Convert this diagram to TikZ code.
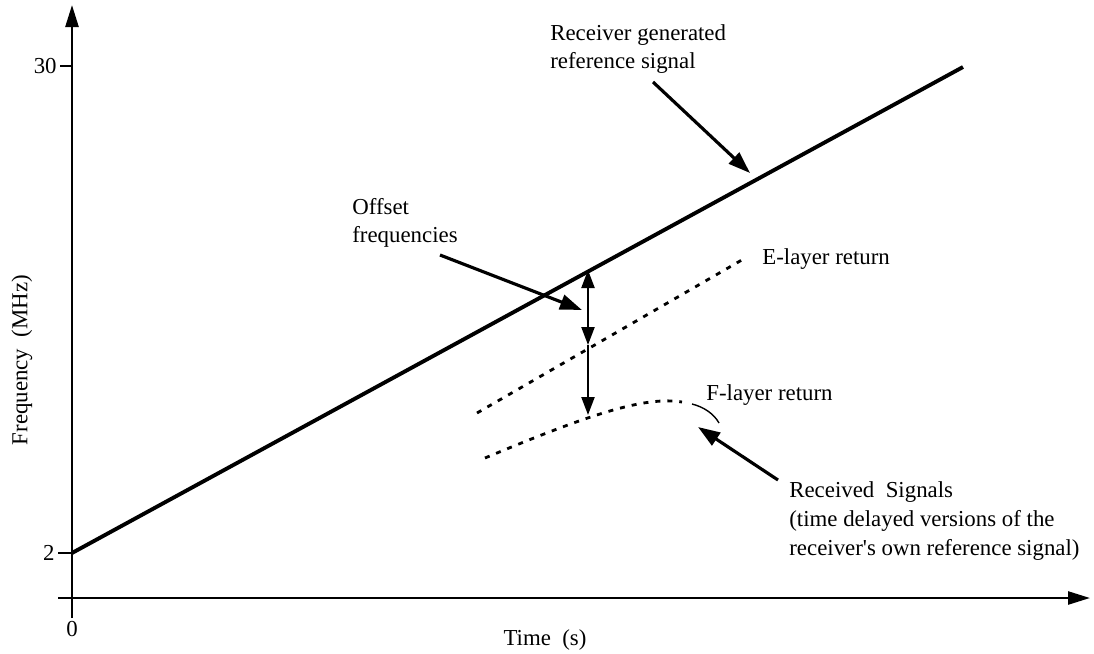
\documentclass[tikz,border=0pt]{standalone}
\usepackage{fontspec}
\setmainfont{Liberation Serif}[Ligatures=TeXOff]
\usetikzlibrary{arrows.meta,positioning}

\begin{document}
\begin{tikzpicture}[x=0.2mm, y=-0.2mm,
    axis/.style={line width=1.4pt, -{Triangle[length=4.4mm,width=2.6mm]}},
    pointer/.style={line width=1.8pt, -{Triangle[length=4.4mm,width=3mm]}},
    offset/.style={line width=1.3pt, {Triangle[length=3.6mm,width=2.6mm]}-{Triangle[length=3.6mm,width=2.6mm]}},
    echo/.style={line width=1.6pt, dash pattern=on 1mm off 1.4mm},
    label/.style={font=\fontsize{13}{15.8}\selectfont, align=left, inner sep=0pt}
  ]
    \useasboundingbox (0,0) rectangle (1094,653);

    % axes
    \coordinate (xstart) at (58,598);
    \coordinate (xend) at (1090,598);
    \coordinate (ystart) at (72,618);
    \coordinate (yend) at (72,5);
    \draw[axis] (xstart) -- (xend);
    \draw[axis] (ystart) -- (yend);
    \draw[line width=1.4pt] (60,66) -- (72,66);
    \draw[line width=1.4pt] (58,553) -- (72,553);
    \node[label, anchor=east] (t30) at (57,66) {30};
    \node[label, anchor=east] (t2) at (55,553) {2};
    \node[label] (t0) at (72,629) {0};
    \node[label] (tlab) at (545,640) {Time~~(s)};
    \node[label, rotate=90] (flab) at (22,360) {Frequency~~(MHz)};

    % reference sweep
    \coordinate (refA) at (72,553);
    \coordinate (refB) at (963,67);
    \draw[line width=2.2pt] (refA) -- (refB);
    \node[label, anchor=west] (rg) at (550,49) {Receiver generated\\reference signal};
    \coordinate (rgtail) at (653,82);
    \coordinate (rghead) at (750,173);
    \draw[pointer] (rgtail) -- (rghead);

    % returns
    \coordinate (eA) at (477,413);
    \coordinate (eB) at (747,257);
    \draw[echo] (eA) -- (eB);
    \node[label, anchor=west] (elab) at (762,259) {E-layer return};
    \coordinate (fA) at (485,458);
    \coordinate (fB) at (682,402);
    \coordinate (fC) at (719,423);
    \draw[echo] (fA) .. controls (590,414) and (645,396) .. (fB);
    \draw[line width=0.8pt] (692,404) .. controls (704,407) and (714,414) .. (fC);
    \node[label, anchor=west] (flab2) at (706,395) {F-layer return};

    % offsets
    \coordinate (oTop) at (588,270);
    \coordinate (oMid) at (588,345);
    \coordinate (oBot) at (588,415);
    \draw[offset] (oTop) -- (oMid);
    \draw[line width=1.3pt, -{Triangle[length=3.6mm,width=2.6mm]}] (oMid) -- (oBot);
    \node[label, anchor=west] (off) at (352,223) {Offset\\frequencies};
    \coordinate (offtail) at (440,255);
    \coordinate (offhead) at (582,310);
    \draw[pointer] (offtail) -- (offhead);

    % received signals
    \node[label, anchor=west, font=\fontsize{13}{16.3}\selectfont] (rx) at (789,521)
      {Received~~Signals\\(time delayed versions of the\\receiver's own reference signal)};
    \coordinate (rxtail) at (778,480);
    \coordinate (rxhead) at (698,427);
    \draw[pointer] (rxtail) -- (rxhead);
  \end{tikzpicture}
\end{document}
